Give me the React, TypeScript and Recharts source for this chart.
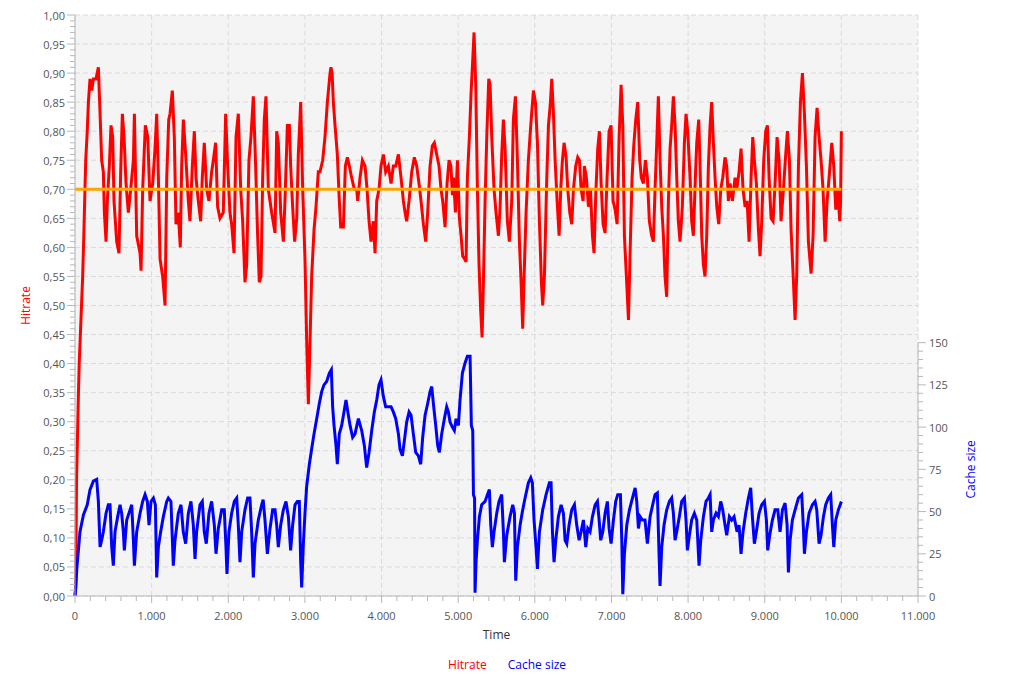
import { LineChart, Line, XAxis, YAxis, CartesianGrid, ReferenceLine } from 'recharts';

// Hitrate over time
const hitrateTime = [
  0, 10, 20, 30, 45, 55, 70, 85, 100, 115, 130, 140, 160, 175, 196, 218, 240, 274, 305, 327,
  348, 370, 383, 405, 422, 448, 470, 492, 509, 544, 574, 596, 618, 640, 666, 696, 727, 762, 775, 805,
  849, 862, 883, 918, 949, 979, 1014, 1044, 1066, 1088, 1110, 1144, 1175, 1197, 1223, 1240, 1270, 1296, 1318, 1348,
  1374, 1392, 1414, 1444, 1479, 1500, 1531, 1557, 1579, 1609, 1640, 1661, 1687, 1718, 1748, 1783, 1805, 1835, 1861, 1892,
  1935, 1966, 1992, 2022, 2044, 2075, 2101, 2131, 2162, 2188, 2218, 2240, 2270, 2296, 2327, 2357, 2383, 2405, 2427, 2449,
  2470, 2492, 2523, 2566, 2610, 2632, 2653, 2684, 2719, 2740, 2771, 2797, 2814, 2840, 2866, 2893, 2914, 2945, 2971, 3001,
  3023, 3045, 3067, 3088, 3119, 3145, 3175, 3197, 3232, 3262, 3293, 3328, 3340, 3355, 3371, 3393, 3423, 3449, 3467, 3502,
  3528, 3554, 3580, 3610, 3645, 3676, 3689, 3719, 3750, 3785, 3811, 3837, 3863, 3893, 3915, 3937, 3967, 3993, 4024, 4054,
  4089, 4124, 4154, 4185, 4220, 4254, 4285, 4307, 4328, 4359, 4394, 4428, 4459, 4489, 4515, 4546, 4576, 4602, 4633, 4663,
  4689, 4720, 4750, 4776, 4798, 4829, 4855, 4881, 4905, 4925, 4940, 4964, 4990, 5016, 5038, 5059, 5085, 5103, 5120, 5146,
  5168, 5185, 5207, 5229, 5251, 5272, 5294, 5312, 5329, 5351, 5373, 5399, 5416, 5438, 5468, 5494, 5525, 5547, 5568, 5590,
  5612, 5642, 5668, 5699, 5720, 5747, 5773, 5799, 5821, 5842, 5860, 5886, 5916, 5947, 5982, 6008, 6034, 6060, 6086, 6103,
  6125, 6156, 6178, 6204, 6221, 6243, 6265, 6291, 6317, 6338, 6360, 6382, 6408, 6430, 6456, 6482, 6504, 6534, 6560, 6582,
  6604, 6630, 6647, 6673, 6700, 6726, 6752, 6773, 6795, 6821, 6843, 6865, 6891, 6917, 6943, 6969, 6995, 7021, 7048, 7074,
  7100, 7126, 7148, 7169, 7195, 7222, 7243, 7269, 7291, 7317, 7343, 7369, 7390, 7417, 7443, 7469, 7495, 7525, 7547, 7569,
  7591, 7612, 7634, 7656, 7678, 7699, 7721, 7743, 7765, 7786, 7808, 7830, 7852, 7873, 7895, 7925, 7952, 7973, 7995, 8026,
  8047, 8069, 8095, 8113, 8139, 8156, 8178, 8200, 8221, 8243, 8265, 8287, 8308, 8330, 8352, 8374, 8400, 8426, 8452, 8482,
  8504, 8526, 8548, 8578, 8613, 8635, 8665, 8691, 8717, 8744, 8770, 8796, 8822, 8844, 8865, 8891, 8918, 8939, 8961, 8987,
  9013, 9035, 9057, 9083, 9109, 9135, 9161, 9187, 9213, 9244, 9274, 9296, 9322, 9344, 9370, 9396, 9418, 9440, 9466, 9492,
  9518, 9544, 9570, 9605, 9631, 9657, 9683, 9709, 9735, 9761, 9788, 9814, 9840, 9875, 9901, 9927, 9953, 9979, 9990, 10000,
];
const hitrateValue = [
  0, 0.02, 0.2, 0.26, 0.35, 0.4, 0.45, 0.5, 0.55, 0.62, 0.7, 0.75, 0.8, 0.85, 0.89, 0.87, 0.89, 0.89, 0.91, 0.83,
  0.75, 0.73, 0.66, 0.61, 0.68, 0.74, 0.81, 0.79, 0.68, 0.61, 0.59, 0.73, 0.83, 0.79, 0.71, 0.66, 0.7, 0.75, 0.83, 0.62,
  0.59, 0.56, 0.7, 0.81, 0.79, 0.68, 0.71, 0.77, 0.83, 0.72, 0.58, 0.55, 0.5, 0.72, 0.82, 0.83, 0.87, 0.79, 0.64, 0.66,
  0.6, 0.74, 0.82, 0.76, 0.68, 0.645, 0.74, 0.8, 0.72, 0.68, 0.645, 0.72, 0.78, 0.7, 0.68, 0.73, 0.75, 0.78, 0.67, 0.65,
  0.66, 0.83, 0.74, 0.66, 0.64, 0.59, 0.79, 0.83, 0.7, 0.645, 0.54, 0.57, 0.75, 0.79, 0.86, 0.74, 0.62, 0.54, 0.55, 0.72,
  0.82, 0.86, 0.7, 0.66, 0.625, 0.8, 0.78, 0.66, 0.61, 0.68, 0.81, 0.81, 0.74, 0.67, 0.61, 0.65, 0.76, 0.85, 0.7, 0.58,
  0.44, 0.33, 0.44, 0.55, 0.63, 0.67, 0.73, 0.73, 0.75, 0.79, 0.85, 0.9, 0.91, 0.9, 0.85, 0.81, 0.76, 0.68, 0.635, 0.635,
  0.74, 0.755, 0.74, 0.72, 0.7, 0.7, 0.68, 0.72, 0.75, 0.74, 0.7, 0.645, 0.61, 0.645, 0.59, 0.68, 0.7, 0.74, 0.76, 0.73,
  0.74, 0.71, 0.74, 0.74, 0.76, 0.72, 0.68, 0.66, 0.645, 0.68, 0.73, 0.755, 0.74, 0.71, 0.68, 0.64, 0.61, 0.66, 0.74, 0.775,
  0.78, 0.76, 0.74, 0.7, 0.68, 0.635, 0.71, 0.75, 0.74, 0.69, 0.72, 0.66, 0.75, 0.65, 0.62, 0.585, 0.58, 0.575, 0.72, 0.79,
  0.865, 0.91, 0.97, 0.88, 0.7, 0.57, 0.49, 0.445, 0.54, 0.68, 0.79, 0.89, 0.88, 0.79, 0.7, 0.66, 0.62, 0.67, 0.76, 0.82,
  0.77, 0.645, 0.61, 0.68, 0.82, 0.86, 0.75, 0.61, 0.54, 0.46, 0.55, 0.66, 0.75, 0.81, 0.87, 0.85, 0.78, 0.645, 0.54, 0.5,
  0.55, 0.72, 0.81, 0.85, 0.89, 0.83, 0.75, 0.68, 0.62, 0.7, 0.75, 0.78, 0.755, 0.7, 0.66, 0.64, 0.7, 0.74, 0.755, 0.75,
  0.7, 0.68, 0.74, 0.72, 0.67, 0.7, 0.62, 0.59, 0.69, 0.77, 0.8, 0.71, 0.64, 0.625, 0.72, 0.8, 0.81, 0.68, 0.665, 0.64,
  0.79, 0.88, 0.81, 0.62, 0.55, 0.475, 0.59, 0.72, 0.775, 0.82, 0.85, 0.75, 0.72, 0.71, 0.75, 0.72, 0.645, 0.62, 0.61, 0.7,
  0.78, 0.86, 0.75, 0.67, 0.62, 0.55, 0.515, 0.68, 0.77, 0.81, 0.86, 0.81, 0.72, 0.645, 0.61, 0.67, 0.78, 0.83, 0.8, 0.72,
  0.645, 0.62, 0.72, 0.78, 0.82, 0.74, 0.62, 0.57, 0.55, 0.62, 0.74, 0.81, 0.85, 0.78, 0.72, 0.67, 0.64, 0.7, 0.72, 0.755,
  0.74, 0.68, 0.71, 0.68, 0.72, 0.7, 0.73, 0.77, 0.7, 0.67, 0.68, 0.61, 0.72, 0.79, 0.75, 0.71, 0.63, 0.585, 0.645, 0.75,
  0.8, 0.81, 0.72, 0.65, 0.645, 0.71, 0.79, 0.75, 0.645, 0.7, 0.76, 0.8, 0.75, 0.63, 0.555, 0.475, 0.555, 0.74, 0.85, 0.9,
  0.83, 0.74, 0.61, 0.555, 0.62, 0.79, 0.84, 0.79, 0.75, 0.7, 0.61, 0.68, 0.72, 0.78, 0.74, 0.665, 0.7, 0.645, 0.68, 0.8,
];

// Cache size over time
const cacheTime = [
  0, 10, 25, 50, 65, 110, 160, 196, 240, 283, 305, 327, 348, 370, 405, 435, 457, 479, 500, 522,
  557, 588, 609, 631, 644, 675, 718, 740, 762, 775, 805, 849, 883, 914, 944, 966, 992, 1023, 1049, 1066,
  1088, 1118, 1153, 1197, 1218, 1252, 1283, 1305, 1348, 1383, 1413, 1444, 1479, 1513, 1544, 1566, 1587, 1631, 1661, 1687,
  1713, 1748, 1783, 1818, 1840, 1870, 1914, 1948, 1970, 1983, 2009, 2044, 2079, 2110, 2131, 2153, 2175, 2218, 2253, 2283,
  2305, 2327, 2349, 2392, 2436, 2455, 2479, 2510, 2545, 2579, 2610, 2632, 2653, 2684, 2719, 2753, 2784, 2814, 2840, 2871,
  2901, 2927, 2945, 2958, 2980, 3001, 3023, 3058, 3088, 3119, 3154, 3188, 3219, 3249, 3284, 3319, 3345, 3362, 3380, 3406,
  3423, 3449, 3480, 3510, 3536, 3567, 3589, 3623, 3654, 3698, 3741, 3776, 3806, 3837, 3872, 3906, 3937, 3967, 3993, 4024,
  4054, 4089, 4124, 4154, 4185, 4220, 4241, 4272, 4298, 4328, 4359, 4385, 4415, 4446, 4481, 4511, 4537, 4568, 4602, 4633,
  4655, 4676, 4707, 4733, 4755, 4785, 4820, 4850, 4872, 4894, 4924, 4950, 4972, 5003, 5024, 5055, 5090, 5120, 5155, 5172,
  5190, 5199, 5214, 5220, 5233, 5251, 5277, 5307, 5351, 5381, 5407, 5425, 5446, 5468, 5503, 5533, 5568, 5590, 5603, 5634,
  5677, 5712, 5734, 5751, 5773, 5808, 5842, 5873, 5916, 5947, 5968, 5990, 6016, 6034, 6060, 6103, 6147, 6190, 6212, 6230,
  6251, 6273, 6308, 6343, 6373, 6395, 6417, 6447, 6482, 6517, 6547, 6578, 6604, 6634, 6665, 6691, 6721, 6752, 6787, 6817,
  6839, 6860, 6887, 6917, 6947, 6969, 6995, 7026, 7056, 7082, 7117, 7135, 7148, 7169, 7200, 7235, 7274, 7309, 7330, 7352,
  7374, 7404, 7438, 7469, 7504, 7538, 7569, 7599, 7621, 7634, 7656, 7686, 7721, 7756, 7786, 7808, 7830, 7852, 7886, 7917,
  7952, 7973, 7991, 8017, 8047, 8082, 8113, 8143, 8165, 8200, 8234, 8265, 8287, 8308, 8330, 8365, 8395, 8426, 8452, 8482,
  8504, 8539, 8569, 8600, 8639, 8665, 8691, 8717, 8752, 8787, 8817, 8839, 8865, 8891, 8926, 8961, 8996, 9022, 9039, 9065,
  9100, 9135, 9170, 9200, 9231, 9266, 9292, 9309, 9331, 9361, 9396, 9440, 9483, 9505, 9518, 9544, 9579, 9622, 9657, 9679,
  9709, 9735, 9766, 9796, 9831, 9861, 9883, 9901, 9927, 9961, 10000,
];
const cacheValue = [
  0, 5, 17, 30, 38, 48, 54, 63, 68, 69, 56, 29, 33, 38, 49, 54, 54, 29, 18, 38,
  47, 54, 49, 38, 27, 45, 51, 54, 33, 18, 38, 49, 56, 60, 56, 42, 56, 58, 54, 11,
  29, 38, 47, 56, 58, 56, 18, 33, 49, 54, 38, 31, 49, 56, 42, 22, 38, 54, 56, 38,
  31, 49, 56, 42, 25, 40, 51, 51, 29, 13, 38, 49, 56, 58, 42, 20, 38, 51, 58, 58,
  38, 11, 31, 45, 54, 57, 45, 25, 40, 51, 51, 42, 29, 42, 51, 56, 47, 27, 42, 54,
  56, 56, 20, 5, 31, 49, 65, 78, 87, 96, 105, 114, 121, 125, 127, 132, 134, 112, 101, 89,
  78, 96, 101, 109, 116, 107, 101, 94, 96, 105, 98, 89, 76, 85, 98, 109, 116, 125, 128, 118,
  112, 112, 112, 109, 105, 96, 87, 83, 92, 103, 109, 107, 96, 85, 83, 78, 94, 107, 114, 121,
  124, 114, 101, 89, 85, 96, 105, 112, 109, 103, 100, 98, 105, 101, 116, 132, 138, 142, 142, 101,
  98, 60, 58, 2, 20, 33, 47, 54, 56, 60, 63, 42, 29, 38, 49, 56, 60, 38, 20, 36,
  47, 54, 49, 9, 29, 42, 51, 58, 67, 70, 67, 45, 29, 16, 38, 51, 60, 67, 67, 38,
  20, 33, 47, 54, 49, 33, 31, 42, 51, 54, 42, 33, 38, 45, 29, 40, 38, 47, 54, 56,
  45, 33, 38, 49, 56, 40, 31, 45, 56, 60, 60, 33, 1, 25, 42, 51, 58, 64, 56, 40,
  47, 45, 45, 31, 47, 54, 60, 61, 25, 6, 29, 42, 51, 56, 58, 49, 33, 38, 47, 56,
  58, 45, 27, 36, 45, 49, 45, 18, 33, 47, 56, 58, 60, 38, 45, 49, 47, 56, 51, 42,
  36, 47, 45, 47, 38, 42, 25, 38, 49, 58, 64, 47, 31, 38, 49, 54, 56, 45, 27, 36,
  45, 51, 51, 38, 51, 55, 42, 14, 33, 45, 51, 58, 60, 40, 25, 38, 49, 54, 56, 51,
  31, 36, 47, 54, 58, 60, 42, 29, 45, 51, 56,
];

// Target hitrate line
const targetTime = [0, 10000];
const targetValue = [0.7, 0.7];

const hitrateMajorTicks = [0, 0.05, 0.1, 0.15, 0.2, 0.25, 0.3, 0.35, 0.4, 0.45, 0.5, 0.55, 0.6, 0.65, 0.7, 0.75, 0.8, 0.85, 0.9, 0.95, 1];
const timeMajorTicks = [0, 1000, 2000, 3000, 4000, 5000, 6000, 7000, 8000, 9000, 10000, 11000];
const cacheMajorTicks = [0, 25, 50, 75, 100, 125, 150];

// minor ticks for the axes
const hitrateTicks = Array.from({ length: 101 }, (_, i) => i / 100);
const timeTicks = Array.from({ length: 56 }, (_, i) => i * 200);
const cacheTicks = Array.from({ length: 31 }, (_, i) => i * 5);

const hitrateData = hitrateTime.map((t, i) => ({ t, v: hitrateValue[i] }));
const cacheData = cacheTime.map((t, i) => ({ t, v: cacheValue[i] }));
const targetData = targetTime.map((t, i) => ({ t, v: targetValue[i] }));

const FONT = '"Open Sans", "Noto Sans", sans-serif';
const AXIS = '#b8b8b8';
const TICK_TEXT = '#555555';

const fmtTime = (v: number) =>
  v >= 1000 ? `${Math.floor(v / 1000)}.${String(v % 1000).padStart(3, '0')}` : String(v);

const LeftTick = ({ x, y, payload }: any) => {
  const v = payload.value;
  const major = Math.round(v * 100) % 5 === 0;
  return (
    <g>
      <line x1={x - (major ? 8 : 5)} x2={x} y1={y} y2={y} stroke={AXIS} />
      {major && (
        <text x={x - 10} y={y} textAnchor="end" dominantBaseline="central" fill={TICK_TEXT} fontSize={11} fontFamily={FONT}>
          {v.toFixed(2).replace('.', ',')}
        </text>
      )}
    </g>
  );
};

const RightTick = ({ x, y, payload }: any) => {
  const v = payload.value;
  const major = v % 25 === 0;
  return (
    <g>
      <line x1={x} x2={x + (major ? 8 : 5)} y1={y} y2={y} stroke={AXIS} />
      {major && (
        <text x={x + 11} y={y} textAnchor="start" dominantBaseline="central" fill={TICK_TEXT} fontSize={11} fontFamily={FONT}>
          {v}
        </text>
      )}
    </g>
  );
};

const BottomTick = ({ x, y, payload }: any) => {
  const v = payload.value;
  const major = v % 1000 === 0;
  return (
    <g>
      <line x1={x} x2={x} y1={y} y2={y + (major ? 7 : 5)} stroke={AXIS} />
      {major && (
        <text x={x} y={y + 19} textAnchor="middle" dominantBaseline="central" fill={TICK_TEXT} fontSize={11} fontFamily={FONT}>
          {fmtTime(v)}
        </text>
      )}
    </g>
  );
};

const hitrateTitle = (props: any) => {
  const vb = props.viewBox;
  const cx = vb.x + 25;
  const cy = vb.y + vb.height / 2;
  return (
    <text x={cx} y={cy} transform={`rotate(-90 ${cx} ${cy})`} textAnchor="middle" dominantBaseline="central" fill="#ff0000" fontSize={12} fontFamily={FONT}>
      Hitrate
    </text>
  );
};

const cacheTitle = (props: any) => {
  const vb = props.viewBox;
  const cx = vb.x + 53;
  const cy = vb.y + vb.height * (1 - 75 / 344);
  return (
    <text x={cx} y={cy} transform={`rotate(-90 ${cx} ${cy})`} textAnchor="middle" dominantBaseline="central" fill="#0000ff" fontSize={12} fontFamily={FONT}>
      Cache size
    </text>
  );
};

const timeTitle = (props: any) => {
  const vb = props.viewBox;
  return (
    <text x={vb.x + vb.width / 2} y={vb.y + 38} textAnchor="middle" dominantBaseline="central" fill="#333333" fontSize={12} fontFamily={FONT}>
      Time
    </text>
  );
};

export default function App() {
  return (
    <div style={{ position: 'absolute', left: 0, top: 0, width: 1014, height: 694, background: '#ffffff', fontFamily: FONT }}>
      <LineChart width={1014} height={694} margin={{ top: 15, right: 0, bottom: 48, left: 0 }}>
        <CartesianGrid
          yAxisId="left"
          fill="#f4f4f4"
          stroke="#dadada"
          strokeDasharray="5 3"
          horizontalValues={hitrateMajorTicks}
          verticalValues={timeMajorTicks}
        />
        <XAxis
          type="number"
          dataKey="t"
          domain={[0, 11000]}
          ticks={timeTicks}
          interval={0}
          tick={<BottomTick />}
          tickLine={false}
          tickSize={0}
          tickMargin={0}
          axisLine={{ stroke: AXIS }}
          height={50}
          label={timeTitle}
        />
        <YAxis
          yAxisId="left"
          type="number"
          domain={[0, 1]}
          ticks={hitrateTicks}
          interval={0}
          tick={<LeftTick />}
          tickLine={false}
          tickSize={0}
          tickMargin={0}
          axisLine={{ stroke: AXIS }}
          width={75}
          label={hitrateTitle}
        />
        <YAxis
          yAxisId="right"
          orientation="right"
          type="number"
          domain={[0, 344]}
          ticks={cacheTicks}
          interval={0}
          tick={<RightTick />}
          tickLine={false}
          tickSize={0}
          tickMargin={0}
          axisLine={false}
          width={96}
          label={cacheTitle}
        />
        <ReferenceLine
          yAxisId="right"
          segment={[{ x: 11000, y: 0 }, { x: 11000, y: 150 }]}
          stroke={AXIS}
          ifOverflow="visible"
        />
        <Line yAxisId="left" data={hitrateData} dataKey="v" stroke="#ff0000" strokeWidth={3} dot={false} isAnimationActive={false} />
        <Line yAxisId="right" data={cacheData} dataKey="v" stroke="#0000ff" strokeWidth={3} dot={false} isAnimationActive={false} />
        <Line yAxisId="left" data={targetData} dataKey="v" stroke="#ffa500" strokeWidth={3} dot={false} isAnimationActive={false} />
      </LineChart>
      <div
        style={{
          position: 'absolute',
          left: 0,
          top: 657,
          width: 1014,
          display: 'flex',
          justifyContent: 'center',
          gap: 21,
          fontSize: 12,
          lineHeight: '16px',
        }}
      >
        <span style={{ color: '#ff0000' }}>Hitrate</span>
        <span style={{ color: '#0000ff' }}>Cache size</span>
      </div>
    </div>
  );
}
